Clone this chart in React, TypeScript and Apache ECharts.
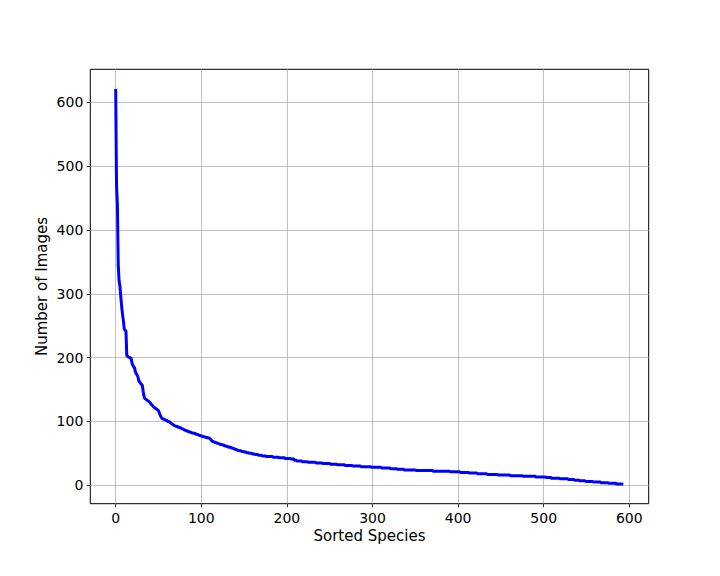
import React, { useEffect, useRef } from "react";
import * as echarts from "echarts";

// Number of images per species, sorted descending (species index 0..593)
const imageCounts: number[] = [
  621, 470, 440, 345, 320, 312, 295, 280, 268, 258,
  245, 243, 242, 203, 202, 201, 200, 200, 199, 192,
  188, 186, 184, 178, 175, 173, 170, 164, 162, 160,
  158, 157, 148, 140, 136, 135, 134, 133, 132, 131,
  130, 128, 126, 125, 123, 122, 121, 120, 119, 118,
  117, 113, 110, 107, 105, 104, 104, 103, 102, 102,
  101, 100, 100, 99, 98, 97, 96, 95, 94, 93,
  93, 92, 92, 91, 91, 90, 90, 89, 88, 88,
  87, 86, 86, 85, 85, 84, 84, 83, 83, 82,
  82, 82, 81, 81, 80, 80, 79, 79, 78, 78,
  77, 77, 76, 76, 76, 75, 75, 75, 74, 74,
  73, 72, 70, 69, 68, 68, 67, 67, 66, 66,
  65, 65, 64, 64, 64, 63, 63, 62, 62, 61,
  61, 60, 60, 60, 59, 59, 58, 58, 57, 57,
  56, 56, 55, 55, 54, 54, 54, 53, 53, 53,
  52, 52, 52, 51, 51, 51, 50, 50, 50, 50,
  49, 49, 49, 48, 48, 48, 48, 47, 47, 47,
  47, 46, 46, 46, 46, 46, 45, 45, 45, 45,
  45, 45, 45, 45, 44, 44, 44, 44, 44, 44,
  44, 43, 43, 43, 43, 43, 43, 43, 42, 42,
  42, 42, 42, 42, 42, 41, 41, 41, 41, 39,
  39, 39, 38, 38, 38, 38, 38, 38, 37, 37,
  37, 37, 37, 37, 37, 36, 36, 36, 36, 36,
  36, 36, 36, 36, 35, 35, 35, 35, 35, 35,
  35, 35, 34, 34, 34, 34, 34, 34, 34, 34,
  34, 33, 33, 33, 33, 33, 33, 33, 33, 32,
  32, 32, 32, 32, 32, 32, 32, 32, 31, 31,
  31, 31, 31, 31, 31, 31, 31, 30, 30, 30,
  30, 30, 30, 30, 30, 30, 30, 29, 29, 29,
  29, 29, 29, 29, 29, 29, 29, 29, 29, 28,
  28, 28, 28, 28, 28, 28, 28, 28, 28, 28,
  28, 27, 27, 27, 27, 27, 27, 27, 27, 27,
  27, 26, 26, 26, 26, 26, 26, 26, 26, 25,
  25, 25, 25, 25, 25, 25, 25, 24, 24, 24,
  24, 24, 24, 24, 24, 24, 24, 24, 24, 24,
  24, 23, 23, 23, 23, 23, 23, 23, 23, 23,
  23, 23, 23, 23, 23, 23, 23, 23, 23, 23,
  23, 22, 22, 22, 22, 22, 22, 22, 22, 22,
  22, 22, 22, 22, 22, 22, 22, 22, 22, 22,
  22, 21, 21, 21, 21, 21, 21, 21, 21, 21,
  21, 21, 21, 20, 20, 20, 20, 20, 20, 20,
  20, 20, 20, 19, 19, 19, 19, 19, 19, 19,
  19, 19, 19, 18, 18, 18, 18, 18, 18, 18,
  18, 18, 18, 18, 17, 17, 17, 17, 17, 17,
  17, 17, 17, 17, 17, 17, 17, 16, 16, 16,
  16, 16, 16, 16, 16, 16, 16, 16, 16, 16,
  16, 15, 15, 15, 15, 15, 15, 15, 15, 15,
  15, 15, 15, 15, 15, 15, 14, 14, 14, 14,
  14, 14, 14, 14, 14, 14, 14, 14, 14, 14,
  14, 13, 13, 13, 13, 13, 13, 13, 13, 13,
  13, 13, 13, 12, 12, 12, 12, 12, 12, 11,
  11, 11, 11, 11, 11, 11, 11, 11, 11, 10,
  10, 10, 10, 10, 10, 10, 10, 10, 10, 9,
  9, 9, 9, 9, 9, 9, 8, 8, 8, 8,
  8, 8, 7, 7, 7, 7, 7, 7, 7, 6,
  6, 6, 6, 6, 6, 6, 6, 6, 5, 5,
  5, 5, 5, 5, 5, 5, 5, 4, 4, 4,
  4, 4, 4, 4, 4, 4, 3, 3, 3, 3,
  3, 3, 3, 3, 3, 2, 2, 2, 2, 2,
  2, 2, 2, 2,
];

const xTickValues: number[] = [0, 100, 200, 300, 400, 500, 600];
const yTickValues: number[] = [0, 100, 200, 300, 400, 500, 600];
const xAxisTitle = "Sorted Species";
const yAxisTitle = "Number of Images";

export default function App() {
  const ref = useRef<HTMLDivElement>(null);

  useEffect(() => {
    document.body.style.margin = "0";
    if (!ref.current) return;
    const chart = echarts.init(ref.current, null, { renderer: "svg" });
    const font = "DejaVu Sans";
    const n = imageCounts.length;
    const xPad = (n - 1) * 0.05;
    const yMaxV = Math.max(...imageCounts);
    const yMinV = Math.min(...imageCounts);
    const yPad = (yMaxV - yMinV) * 0.05;

    chart.setOption({
      animation: false,
      backgroundColor: "#ffffff",
      grid: {
        left: 90.3,
        right: 71.3,
        top: 69.3,
        bottom: 72.3,
        show: true,
        borderColor: "#000000",
        borderWidth: 1,
        backgroundColor: "transparent",
        containLabel: false,
        outerBoundsMode: "none",
      },
      xAxis: {
        type: "value",
        min: -xPad,
        max: n - 1 + xPad,
        name: xAxisTitle,
        nameLocation: "middle",
        nameGap: 25,
        nameMoveOverlap: false,
        nameTextStyle: { fontFamily: font, fontSize: 15, color: "#000" },
        axisLine: { show: false, onZero: false },
        axisTick: {
          show: true,
          length: 3.5,
          lineStyle: { color: "#000", width: 0.8 },
          customValues: xTickValues,
        },
        axisLabel: {
          customValues: xTickValues,
          margin: 7,
          fontFamily: font,
          fontSize: 14,
          color: "#000",
        },
        splitLine: { show: true, lineStyle: { color: "#b0b0b0", width: 0.8 } },
      },
      yAxis: {
        type: "value",
        min: yMinV - yPad,
        max: yMaxV + yPad,
        name: yAxisTitle,
        nameLocation: "middle",
        nameGap: 41,
        nameMoveOverlap: false,
        nameTextStyle: { fontFamily: font, fontSize: 15, color: "#000" },
        axisLine: { show: false, onZero: false },
        axisTick: {
          show: true,
          length: 3.5,
          lineStyle: { color: "#000", width: 0.8 },
          customValues: yTickValues,
        },
        axisLabel: {
          customValues: yTickValues,
          margin: 7,
          fontFamily: font,
          fontSize: 14,
          color: "#000",
        },
        splitLine: { show: true, lineStyle: { color: "#b0b0b0", width: 0.8 } },
      },
      series: [
        {
          type: "line",
          data: imageCounts.map((v, i) => [i, v]),
          showSymbol: false,
          symbol: "none",
          lineStyle: { color: "#0000ff", width: 3 },
          itemStyle: { color: "#0000ff" },
          z: 3,
        },
      ],
    });

    return () => chart.dispose();
  }, []);

  return (
    <div
      ref={ref}
      style={{ position: "absolute", left: 0, top: 0, width: 720, height: 576 }}
    />
  );
}
